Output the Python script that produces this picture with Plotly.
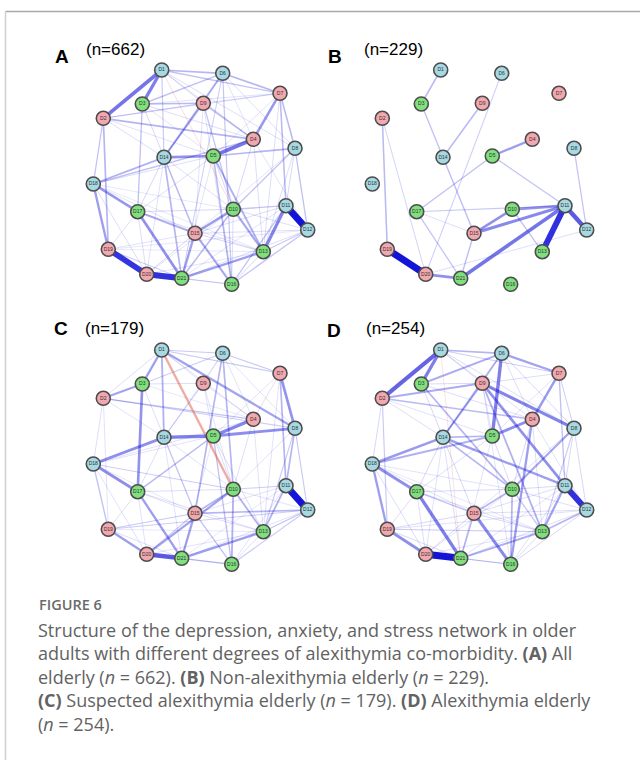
import plotly.graph_objects as go

W, H = 640, 760

# ---- node layout (shared by all four networks) ----
node_names = ["D1", "D2", "D3", "D4", "D5", "D6", "D7", "D8", "D9", "D10", "D11",
              "D12", "D13", "D14", "D15", "D16", "D17", "D18", "D19", "D20", "D21"]
node_x = [81.7, 23.3, 62.3, 173.3, 133.3, 142.7, 200.0, 215.0, 123.3, 153.3, 206.0,
          227.7, 183.3, 84.0, 115.0, 151.7, 57.7, 13.3, 28.3, 66.7, 101.7]
node_y = [15.0, 63.3, 49.0, 84.3, 101.0, 18.3, 38.3, 93.3, 48.3, 154.3, 150.7,
          175.0, 196.7, 102.3, 178.3, 229.3, 156.7, 129.0, 194.3, 219.3, 223.3]
node_group = ["stress", "anxiety", "depression", "anxiety", "depression", "stress", "anxiety",
              "stress", "anxiety", "depression", "stress", "stress", "depression", "stress",
              "anxiety", "depression", "depression", "stress", "anxiety", "anxiety", "depression"]
group_color = {"stress": "#a6d9e2", "anxiety": "#f3a7ae", "depression": "#7fe07d"}

# ---- edge weights (positive > 0, negative < 0) ----
edges_A = [
    ("D11", "D12", 1.0), ("D19", "D20", 0.82), ("D20", "D21", 0.85), ("D1", "D2", 0.5),
    ("D1", "D3", 0.45), ("D4", "D5", 0.5), ("D11", "D13", 0.42), ("D4", "D7", 0.33),
    ("D5", "D14", 0.36), ("D17", "D18", 0.34), ("D17", "D21", 0.36), ("D18", "D19", 0.3),
    ("D13", "D21", 0.3), ("D10", "D15", 0.32), ("D15", "D21", 0.28), ("D10", "D13", 0.26),
    ("D15", "D16", 0.26), ("D15", "D17", 0.24), ("D14", "D18", 0.22), ("D2", "D4", 0.2),
    ("D6", "D14", 0.22), ("D1", "D6", 0.2), ("D6", "D7", 0.2), ("D7", "D8", 0.18),
    ("D5", "D8", 0.2), ("D2", "D19", 0.2), ("D3", "D9", 0.18), ("D4", "D9", 0.18),
    ("D9", "D14", 0.2), ("D5", "D13", 0.22), ("D5", "D16", 0.18), ("D10", "D21", 0.18),
    ("D8", "D10", 0.15), ("D7", "D11", 0.18), ("D8", "D12", 0.15), ("D12", "D16", 0.14),
    ("D11", "D16", 0.14), ("D14", "D15", 0.18), ("D3", "D6", 0.15), ("D1", "D7", 0.15),
    ("D2", "D18", 0.14), ("D4", "D18", 0.15), ("D14", "D21", 0.2), ("D6", "D16", 0.13),
    ("D10", "D11", 0.14), ("D12", "D13", 0.12), ("D3", "D17", 0.15), ("D9", "D10", 0.14),
    ("D2", "D9", 0.12), ("D1", "D14", 0.12), ("D6", "D21", 0.1), ("D19", "D21", 0.1),
    ("D1", "D9", 0.08), ("D1", "D4", 0.07), ("D1", "D8", 0.07), ("D2", "D14", 0.07),
    ("D2", "D5", 0.06), ("D3", "D14", 0.08), ("D3", "D4", 0.07), ("D3", "D5", 0.06),
    ("D6", "D9", 0.08), ("D6", "D8", 0.07), ("D6", "D4", 0.06), ("D7", "D9", 0.07),
    ("D7", "D5", 0.06), ("D7", "D13", 0.07), ("D8", "D11", 0.08), ("D8", "D13", 0.07),
    ("D8", "D15", 0.06), ("D9", "D16", 0.06), ("D9", "D15", 0.06), ("D4", "D10", 0.08),
    ("D4", "D13", 0.07), ("D4", "D12", 0.06), ("D5", "D10", 0.08), ("D5", "D17", 0.07),
    ("D5", "D21", 0.06), ("D14", "D17", 0.08), ("D14", "D10", 0.07), ("D14", "D20", 0.06),
    ("D18", "D5", 0.07), ("D18", "D20", 0.07), ("D18", "D15", 0.06), ("D18", "D10", 0.05),
    ("D17", "D10", 0.08), ("D17", "D20", 0.07), ("D17", "D19", 0.07), ("D17", "D13", 0.06),
    ("D19", "D15", 0.06), ("D19", "D13", 0.05), ("D20", "D15", 0.08), ("D20", "D16", 0.07),
    ("D20", "D13", 0.06), ("D20", "D10", 0.06), ("D21", "D16", 0.08), ("D21", "D12", 0.07),
    ("D21", "D11", 0.06), ("D16", "D13", 0.08), ("D16", "D10", 0.07), ("D15", "D13", 0.08),
    ("D15", "D12", 0.07), ("D15", "D11", 0.07), ("D10", "D12", 0.07), ("D13", "D18", 0.05),
    ("D12", "D19", 0.05), ("D2", "D7", 0.06), ("D3", "D7", 0.06), ("D1", "D10", -0.06),
]

edges_B = [
    ("D19", "D20", 1.0), ("D11", "D13", 0.85), ("D11", "D12", 0.62), ("D11", "D21", 0.5),
    ("D11", "D15", 0.4), ("D10", "D11", 0.35), ("D10", "D15", 0.36), ("D20", "D21", 0.36),
    ("D4", "D5", 0.3), ("D2", "D19", 0.18), ("D1", "D3", 0.18), ("D9", "D14", 0.18),
    ("D3", "D14", 0.15), ("D14", "D15", 0.16), ("D5", "D17", 0.15), ("D5", "D11", 0.14),
    ("D17", "D11", 0.12), ("D17", "D21", 0.14), ("D15", "D21", 0.16), ("D8", "D12", 0.14),
    ("D10", "D13", 0.15), ("D6", "D20", 0.1), ("D2", "D20", 0.09), ("D17", "D15", 0.07),
    ("D20", "D12", 0.07),
]

edges_C = [
    ("D11", "D12", 1.0), ("D20", "D21", 0.62), ("D5", "D14", 0.45), ("D4", "D5", 0.42),
    ("D5", "D8", 0.38), ("D14", "D18", 0.38), ("D17", "D18", 0.38), ("D3", "D17", 0.35),
    ("D7", "D8", 0.35), ("D1", "D3", 0.3), ("D1", "D8", 0.28), ("D1", "D14", 0.22),
    ("D2", "D3", 0.28), ("D10", "D20", 0.28), ("D15", "D21", 0.28), ("D17", "D21", 0.3),
    ("D19", "D20", 0.3), ("D13", "D21", 0.3), ("D10", "D16", 0.22), ("D10", "D13", 0.22),
    ("D6", "D10", 0.2), ("D6", "D15", 0.2), ("D11", "D13", 0.22), ("D8", "D11", 0.2),
    ("D7", "D11", 0.2), ("D12", "D15", 0.2), ("D1", "D10", -0.3), ("D18", "D19", 0.15),
    ("D14", "D15", 0.14), ("D17", "D5", 0.18), ("D5", "D16", 0.15), ("D15", "D16", 0.15),
    ("D10", "D15", 0.2), ("D2", "D4", 0.14), ("D1", "D7", 0.12), ("D6", "D7", 0.12),
    ("D1", "D6", 0.12), ("D3", "D6", 0.1), ("D9", "D14", 0.1), ("D13", "D12", 0.14),
    ("D16", "D12", 0.12), ("D8", "D12", 0.12), ("D8", "D13", 0.12), ("D16", "D21", 0.15),
    ("D19", "D15", 0.12), ("D19", "D12", 0.1), ("D20", "D15", 0.12), ("D18", "D10", 0.1),
    ("D2", "D8", 0.1), ("D10", "D11", 0.1),
    ("D1", "D2", 0.07), ("D1", "D9", 0.06), ("D1", "D4", 0.06), ("D2", "D14", 0.06),
    ("D2", "D18", 0.07), ("D2", "D19", 0.06), ("D3", "D9", 0.07), ("D3", "D14", 0.07),
    ("D3", "D4", 0.05), ("D6", "D9", 0.06), ("D6", "D14", 0.06), ("D6", "D4", 0.06),
    ("D6", "D8", 0.06), ("D7", "D4", 0.07), ("D7", "D5", 0.06), ("D7", "D13", 0.06),
    ("D9", "D4", 0.07), ("D9", "D10", 0.06), ("D9", "D5", 0.06), ("D4", "D10", 0.07),
    ("D4", "D13", 0.06), ("D4", "D18", 0.06), ("D5", "D10", 0.07), ("D5", "D13", 0.07),
    ("D5", "D21", 0.06), ("D14", "D17", 0.07), ("D14", "D10", 0.06), ("D14", "D21", 0.06),
    ("D18", "D5", 0.06), ("D18", "D20", 0.06), ("D18", "D15", 0.05), ("D17", "D10", 0.07),
    ("D17", "D20", 0.06), ("D17", "D19", 0.07), ("D17", "D13", 0.06), ("D17", "D15", 0.07),
    ("D19", "D21", 0.07), ("D19", "D13", 0.05), ("D20", "D16", 0.06), ("D20", "D13", 0.06),
    ("D21", "D12", 0.06), ("D21", "D11", 0.05), ("D16", "D13", 0.07), ("D15", "D13", 0.07),
    ("D15", "D11", 0.06), ("D10", "D12", 0.06), ("D11", "D16", 0.06), ("D8", "D10", 0.06),
]

edges_D = [
    ("D20", "D21", 1.0), ("D11", "D12", 0.85), ("D1", "D2", 0.58), ("D1", "D3", 0.45),
    ("D5", "D6", 0.45), ("D8", "D9", 0.42), ("D9", "D11", 0.36), ("D17", "D21", 0.45),
    ("D15", "D16", 0.4), ("D17", "D18", 0.38), ("D14", "D18", 0.32), ("D19", "D20", 0.38),
    ("D18", "D19", 0.3), ("D4", "D5", 0.38), ("D4", "D7", 0.32), ("D4", "D16", 0.3),
    ("D11", "D14", 0.3), ("D6", "D7", 0.28), ("D3", "D6", 0.24), ("D1", "D6", 0.2),
    ("D2", "D9", 0.24), ("D9", "D14", 0.22), ("D8", "D10", 0.26), ("D11", "D13", 0.28),
    ("D13", "D21", 0.24), ("D10", "D15", 0.2), ("D10", "D14", 0.2), ("D3", "D10", 0.2),
    ("D5", "D18", 0.22), ("D12", "D13", 0.2), ("D9", "D13", 0.22), ("D10", "D16", 0.2),
    ("D5", "D14", 0.2), ("D6", "D14", 0.2), ("D2", "D4", 0.18), ("D7", "D11", 0.15),
    ("D15", "D21", 0.18), ("D17", "D15", 0.15), ("D13", "D19", 0.12), ("D16", "D21", 0.12),
    ("D2", "D19", 0.12), ("D8", "D13", 0.12), ("D10", "D13", 0.14), ("D1", "D21", -0.05),
    ("D1", "D9", 0.08), ("D1", "D4", 0.07), ("D1", "D8", 0.07), ("D1", "D7", 0.1),
    ("D2", "D14", 0.07), ("D2", "D18", 0.08), ("D2", "D5", 0.06), ("D3", "D9", 0.08),
    ("D3", "D14", 0.08), ("D3", "D4", 0.07), ("D6", "D9", 0.08), ("D6", "D8", 0.08),
    ("D6", "D4", 0.07), ("D7", "D9", 0.07), ("D7", "D8", 0.1), ("D7", "D5", 0.06),
    ("D8", "D11", 0.08), ("D8", "D12", 0.08), ("D8", "D15", 0.06), ("D9", "D16", 0.06),
    ("D9", "D5", 0.07), ("D4", "D10", 0.08), ("D4", "D13", 0.07), ("D4", "D12", 0.06),
    ("D5", "D10", 0.08), ("D5", "D17", 0.07), ("D5", "D21", 0.06), ("D14", "D17", 0.08),
    ("D14", "D15", 0.08), ("D14", "D20", 0.06), ("D14", "D21", 0.07), ("D18", "D20", 0.07),
    ("D18", "D15", 0.06), ("D18", "D10", 0.06), ("D17", "D10", 0.08), ("D17", "D20", 0.07),
    ("D17", "D19", 0.07), ("D17", "D13", 0.06), ("D19", "D15", 0.08), ("D19", "D21", 0.08),
    ("D20", "D15", 0.08), ("D20", "D16", 0.07), ("D20", "D13", 0.06), ("D20", "D10", 0.06),
    ("D21", "D12", 0.07), ("D21", "D11", 0.06), ("D16", "D13", 0.08), ("D16", "D12", 0.08),
    ("D16", "D11", 0.07), ("D15", "D13", 0.08), ("D15", "D12", 0.07), ("D15", "D11", 0.07),
    ("D10", "D12", 0.07), ("D10", "D11", 0.08), ("D13", "D18", 0.05), ("D12", "D19", 0.06),
]

panel_letters = ["A", "B", "C", "D"]
panel_n = [662, 229, 179, 254]
panel_edges = [edges_A, edges_B, edges_C, edges_D]
# plotting box of each network, in pixels (left, top); every box is 240 x 240
panel_boxes = [(80, 55), (359, 55), (80, 335), (359, 335)]
BOX = 240

caption_title = "FIGURE 6"
caption_lines = [
    "Structure of the depression, anxiety, and stress network in older",
    "adults with different degrees of alexithymia co-morbidity. <b>(A)</b> All",
    "elderly (<i>n</i> = 662). <b>(B)</b> Non-alexithymia elderly (<i>n</i> = 229).",
    "<b>(C)</b> Suspected alexithymia elderly (<i>n</i> = 179). <b>(D)</b> Alexithymia elderly",
    "(<i>n</i> = 254).",
]


def px_x(p):
    return p / W


def px_y(p):
    return 1 - p / H


def edge_style(w):
    a = abs(w)
    width = 0.35 + 6.6 * a
    alpha = min(1.0, 0.08 + 0.92 * a ** 0.85)
    if w >= 0:
        col = f"rgba(20,20,215,{alpha:.3f})"
    else:
        col = f"rgba(225,90,70,{min(1.0, alpha + 0.1):.3f})"
    return col, width


idx = {n: i for i, n in enumerate(node_names)}
fig = go.Figure()
layout_axes = {}

for k, (letter, n, edges, (bx, by)) in enumerate(zip(panel_letters, panel_n, panel_edges, panel_boxes)):
    sfx = "" if k == 0 else str(k + 1)
    xa, ya = "x" + sfx, "y" + sfx
    layout_axes["xaxis" + sfx] = dict(domain=[px_x(bx), px_x(bx + BOX)], range=[0, BOX],
                                      visible=False, fixedrange=True, anchor=ya)
    layout_axes["yaxis" + sfx] = dict(domain=[px_y(by + BOX), px_y(by)], range=[BOX, 0],
                                      visible=False, fixedrange=True, anchor=xa)
    # faint edges first, strong edges on top
    for a, b, w in sorted(edges, key=lambda e: abs(e[2])):
        col, width = edge_style(w)
        i, j = idx[a], idx[b]
        fig.add_trace(go.Scatter(x=[node_x[i], node_x[j]], y=[node_y[i], node_y[j]],
                                 mode="lines", line=dict(color=col, width=width),
                                 hoverinfo="skip", showlegend=False, xaxis=xa, yaxis=ya))
    fig.add_trace(go.Scatter(
        x=node_x, y=node_y, mode="markers+text", text=node_names,
        textposition="middle center", textfont=dict(size=5, color="#333333", family="Liberation Sans"),
        marker=dict(size=14, color=[group_color[g] for g in node_group],
                    line=dict(color="#4d4d4d", width=1.6)),
        hoverinfo="text", showlegend=False, xaxis=xa, yaxis=ya))

annotations = []
letter_pos = [(62, 57, 50), (335, 57, 50), (61, 329, 329), (334, 330, 329)]
n_left = [84, 362, 83, 364]
for letter, n, (lx, ly, ny), nl in zip(panel_letters, panel_n, letter_pos, n_left):
    annotations.append(dict(text=f"<b>{letter}</b>", x=px_x(lx), y=px_y(ly), xref="paper", yref="paper",
                            xanchor="center", yanchor="middle", showarrow=False,
                            font=dict(size=19, color="#000000", family="Liberation Sans")))
    annotations.append(dict(text=f"(n={n})", x=px_x(nl), y=px_y(ny), xref="paper", yref="paper",
                            xanchor="left", yanchor="middle", showarrow=False,
                            font=dict(size=17, color="#000000", family="Liberation Sans")))

annotations.append(dict(text=caption_title, x=px_x(37), y=px_y(604), xref="paper", yref="paper",
                        xanchor="left", yanchor="middle", showarrow=False,
                        font=dict(size=14.5, color="#6a6a6a", family="Open Sans", weight=600)))
# caption body as one left-aligned multi-line block
annotations.append(dict(text="<br>".join(caption_lines), x=px_x(36), y=px_y(677),
                        xref="paper", yref="paper", xanchor="left", yanchor="middle", align="left",
                        showarrow=False, font=dict(size=18, color="#626262", family="Open Sans")))

shapes = [
    dict(type="line", xref="paper", yref="paper", x0=px_x(5.5), x1=1, y0=px_y(11.5), y1=px_y(11.5),
         line=dict(color="#a8a8a8", width=1.5)),
    dict(type="line", xref="paper", yref="paper", x0=px_x(5.5), x1=px_x(5.5), y0=px_y(11.5), y1=0,
         line=dict(color="#cfcfcf", width=1.5)),
]

fig.update_layout(width=W, height=H, margin=dict(l=0, r=0, t=0, b=0),
                  paper_bgcolor="white", plot_bgcolor="white",
                  annotations=annotations, shapes=shapes, **layout_axes)
fig.write_html("out.html")
